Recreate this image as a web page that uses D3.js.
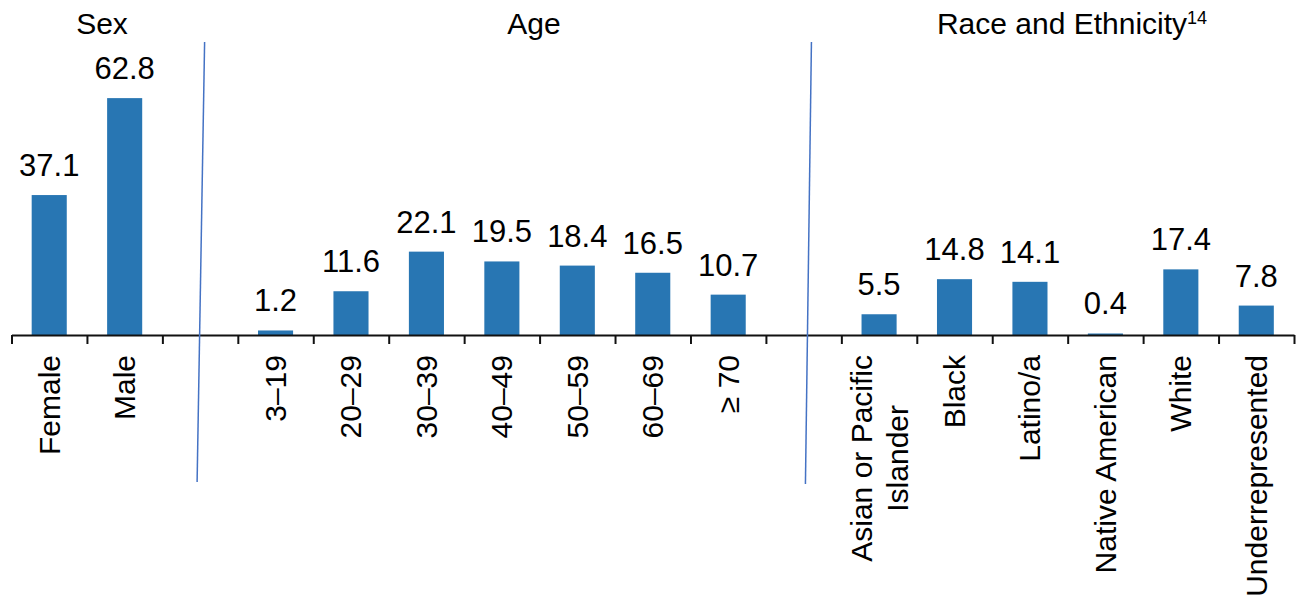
<!DOCTYPE html>
<html>
<head>
<meta charset="utf-8">
<script src="https://cdn.jsdelivr.net/npm/d3@7"></script>
<style>
  html, body { margin: 0; padding: 0; background: #fff; }
  svg { display: block; font-family: "Liberation Sans", Arial, sans-serif; }
</style>
</head>
<body>
<svg id="chart" width="1299" height="598"></svg>
<script>
// Share (%) by sex, age group and race/ethnicity
const sexCategories = ["Female", "Male"];
const sexValues = [37.1, 62.8];

const ageCategories = ["3–19", "20–29", "30–39", "40–49", "50–59", "60–69", "≥ 70"];
const ageValues = [1.2, 11.6, 22.1, 19.5, 18.4, 16.5, 10.7];

const raceCategories = ["Asian or Pacific\nIslander", "Black", "Latino/a", "Native American", "White", "Underrepresented"];
const raceValues = [5.5, 14.8, 14.1, 0.4, 17.4, 7.8];

const groupTitles = ["Sex", "Age", "Race and Ethnicity"];
const raceFootnote = "14";

// One slot per category, with an empty slot between groups
const groups = [
  { cats: sexCategories, vals: sexValues },
  { cats: ageCategories, vals: ageValues },
  { cats: raceCategories, vals: raceValues }
];
const slots = [];
groups.forEach((g, gi) => {
  if (gi > 0) slots.push({ key: "spacer" + gi, label: null, value: null });
  g.cats.forEach((c, i) => slots.push({ key: "g" + gi + "-" + i, label: c, value: g.vals[i] }));
});

const svg = d3.select("#chart");
const axisY = 335;
const left = 11.5, right = 1294;

const x = d3.scaleBand().domain(slots.map(s => s.key)).range([left, right]).padding(0);
const xIdx = d3.scaleLinear().domain([0, slots.length]).range([left, right]);
const y = d3.scaleLinear().domain([0, 70]).range([axisY, axisY - 70 * 3.772]);

const barW = x.bandwidth() * 0.465;
const barColor = "#2876b3";

const bars = slots.filter(s => s.value !== null);

// Bars
svg.append("g").selectAll("rect").data(bars).join("rect")
  .attr("x", d => x(d.key) + (x.bandwidth() - barW) / 2)
  .attr("y", d => y(d.value))
  .attr("width", barW)
  .attr("height", d => y(0) - y(d.value))
  .attr("fill", barColor);

// Value labels
svg.append("g").selectAll("text").data(bars).join("text")
  .attr("x", d => x(d.key) + x.bandwidth() / 2)
  .attr("y", d => y(d.value) - 19)
  .attr("text-anchor", "middle")
  .attr("font-size", 31)
  .attr("fill", "#000")
  .text(d => d.value.toFixed(1));

// Category axis with tick marks on slot boundaries
const axis = d3.axisBottom(xIdx)
  .tickValues(d3.range(slots.length + 1))
  .tickSize(9)
  .tickSizeOuter(0)
  .tickFormat("");
const axisG = svg.append("g").attr("transform", `translate(0,${axisY})`).call(axis);
axisG.select(".domain").attr("stroke", "#111").attr("stroke-width", 2);
axisG.selectAll(".tick line").attr("stroke", "#111").attr("stroke-width", 2);

// Rotated category labels, lines centred as a block starting below the axis
const labelTop = 355;
const lineStep = 36;
const catG = svg.append("g").attr("font-size", 30).attr("fill", "#000");
bars.forEach(d => {
  const lines = d.label.split("\n");
  const cx = x(d.key) + x.bandwidth() / 2;
  const g = catG.append("g");
  const texts = lines.map((ln, i) => {
    const off = (i - (lines.length - 1) / 2) * lineStep;
    return g.append("text")
      .attr("text-anchor", "middle")
      .attr("dy", "0.35em")
      .text(ln)
      .attr("data-off", off);
  });
  const maxLen = d3.max(texts, t => t.node().getComputedTextLength());
  texts.forEach(t => {
    const off = +t.attr("data-off");
    t.attr("transform", `translate(${cx + off},${labelTop + maxLen / 2}) rotate(-90)`);
  });
});

// Slanted separators between the groups
const spacerKeys = slots.filter(s => s.value === null).map(s => s.key);
const sepOffsets = [
  { top: 4.5, bottom: -3, y1: 42, y2: 482 },
  { top: 7.8, bottom: 1.8, y1: 42, y2: 484 }
];
svg.append("g").selectAll("line").data(spacerKeys).join("line")
  .attr("x1", (k, i) => x(k) + x.bandwidth() / 2 + sepOffsets[i].top)
  .attr("y1", (k, i) => sepOffsets[i].y1)
  .attr("x2", (k, i) => x(k) + x.bandwidth() / 2 + sepOffsets[i].bottom)
  .attr("y2", (k, i) => sepOffsets[i].y2)
  .attr("stroke", "#4472c4")
  .attr("stroke-width", 1.5);

// Group titles
const titleX = [102, 534, 1072];
const titles = svg.append("g").attr("font-size", 30).attr("fill", "#000");
groupTitles.forEach((t, i) => {
  const txt = titles.append("text")
    .attr("x", titleX[i])
    .attr("y", 34)
    .attr("text-anchor", "middle")
    .text(t);
  if (i === 2) {
    txt.append("tspan")
      .attr("font-size", 18)
      .attr("dy", -10)
      .text(raceFootnote);
  }
});
</script>
</body>
</html>
